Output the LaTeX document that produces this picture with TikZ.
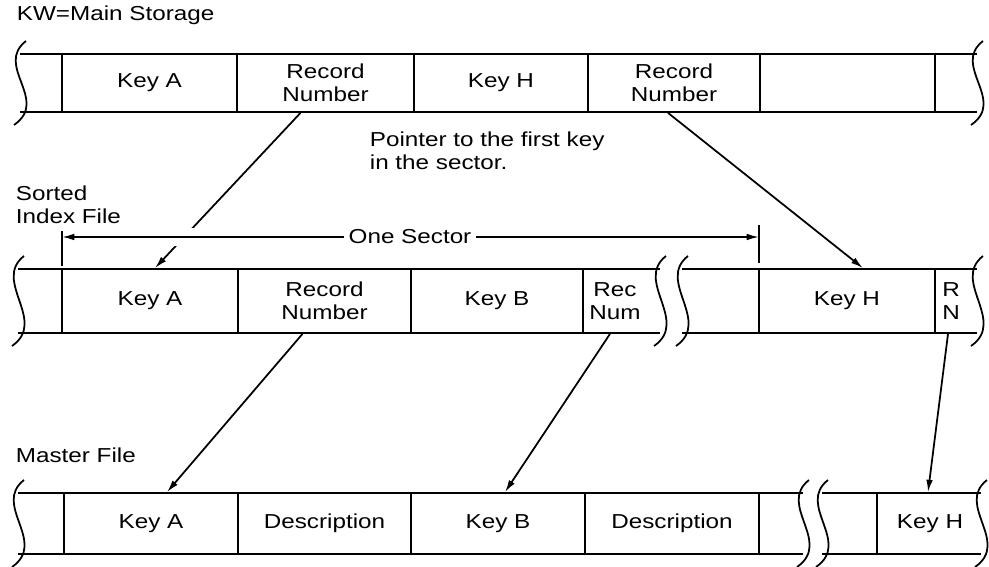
\documentclass[tikz,border=0pt]{standalone}
\usepackage{fontspec}
\setmainfont[FakeStretch=1.2]{Liberation Sans}
\usepackage{tikz}
\usetikzlibrary{arrows.meta, positioning, calc}

\tikzset{
  cell/.style={inner sep=0pt, align=center, font=\fontsize{11.5}{13}\selectfont},
  lbl/.style={inner sep=0pt, anchor=west, align=left, font=\fontsize{11.5}{13}\selectfont},
  ptr/.style={-{Latex[length=7pt,width=3.8pt]}},
}
% cell: name, left x, right x, top y, bottom y, text
\newcommand{\mcell}[6]{\node[cell, minimum width={(#3-#2)*0.2mm}, minimum height={(#5-#4)*0.2mm}] (#1) at ({(#2+#3)/2},{(#4+#5)/2}) {#6};}
% wavy end: x, top y, bottom y
\newcommand{\wavyend}[3]{\draw (#1+6,#2-13) .. controls (#1-26,#2+12) and (#1+30,#3-12) .. (#1-6,#3+13);}

\begin{document}
\begin{tikzpicture}[x=0.2mm, y=-0.2mm, line width=1pt]
    \useasboundingbox (0,0) rectangle (989,567);

    % KW=Main Storage
    \node[lbl] (kw) at (16,15) {KW=Main Storage};
    \draw (20,54) -- (977,54) (20,112) -- (977,112);
    \foreach \x in {62,237,414,588,760,935} \draw (\x,54) -- (\x,112);
    \wavyend{20}{54}{112}
    \wavyend{977}{54}{112}
    \mcell{a1}{62}{237}{54}{112}{Key A}
    \mcell{b1}{237}{414}{54}{112}{Record\\Number}
    \mcell{c1}{414}{588}{54}{112}{Key H}
    \mcell{d1}{588}{760}{54}{112}{Record\\Number}
    \mcell{e1}{760}{935}{54}{112}{}
    \node[lbl] (ptxt) at (369,151) {Pointer to the first key\\in the sector.};

    % Sorted Index File
    \node[lbl] (sif) at (15,205) {Sorted\\Index File};
    \draw (18,269) -- (660,269) (682,269) -- (977,269) (18,333) -- (660,333) (682,333) -- (977,333);
    \foreach \x in {62,238,411,583,759,935} \draw (\x,269) -- (\x,333);
    \wavyend{18}{269}{333}
    \wavyend{660}{269}{333}
    \wavyend{682}{269}{333}
    \wavyend{977}{269}{333}
    \mcell{a2}{62}{238}{269}{333}{Key A}
    \mcell{b2}{238}{411}{269}{333}{Record\\Number}
    \mcell{c2}{411}{583}{269}{333}{Key B}
    \mcell{d2}{583}{647}{269}{333}{Rec\\Num}
    \mcell{e2}{759}{935}{269}{333}{Key H}
    \mcell{f2}{935}{967}{269}{333}{R\\N}

    % Master File
    \node[lbl] (mf) at (15,455) {Master File};
    \draw (18,493) -- (803,493) (822,493) -- (981,493) (18,554) -- (803,554) (822,554) -- (981,554);
    \foreach \x in {64,238,411,585,759,877} \draw (\x,493) -- (\x,554);
    \wavyend{18}{493}{554}
    \wavyend{803}{493}{554}
    \wavyend{822}{493}{554}
    \wavyend{981}{493}{554}
    \mcell{a3}{64}{238}{493}{554}{Key A}
    \mcell{b3}{238}{411}{493}{554}{Description}
    \mcell{c3}{411}{585}{493}{554}{Key B}
    \mcell{d3}{585}{759}{493}{554}{Description}
    \mcell{e3}{877}{983}{493}{554}{Key H}

    % pointers
    \draw[ptr] ($(b1.south)+(-25,0)$) -- ($(a2.north)+(5,0)$);
    \draw[ptr] ($(d1.south)+(-6,0)$) -- ($(e2.north)+(16,0)$);
    \draw[ptr] ($(b2.south)+(-22,0)$) -- ($(a3.north)+(16,0)$);
    \draw[ptr] ($(d2.south)+(-5,0)$) -- ($(c3.north)+(7,0)$);
    \draw[ptr] ($(f2.south)+(-3,0)$) -- ($(e3.north)+(-2,0)$);

    % One Sector
    \node[cell, inner xsep=2pt, fill=white] (sec) at (410,237) {One Sector};
    \coordinate (sl) at (62,237);
    \coordinate (sr) at (759,237);
    \draw[white, line width=3.6mm] (sl) -- (sec.west);
    \draw[ptr] (sec.west) -- (sl);
    \draw[ptr] (sec.east) -- (sr);
    \draw (62,231) -- (62,266) (759,225) -- (759,263);
\end{tikzpicture}
\end{document}
